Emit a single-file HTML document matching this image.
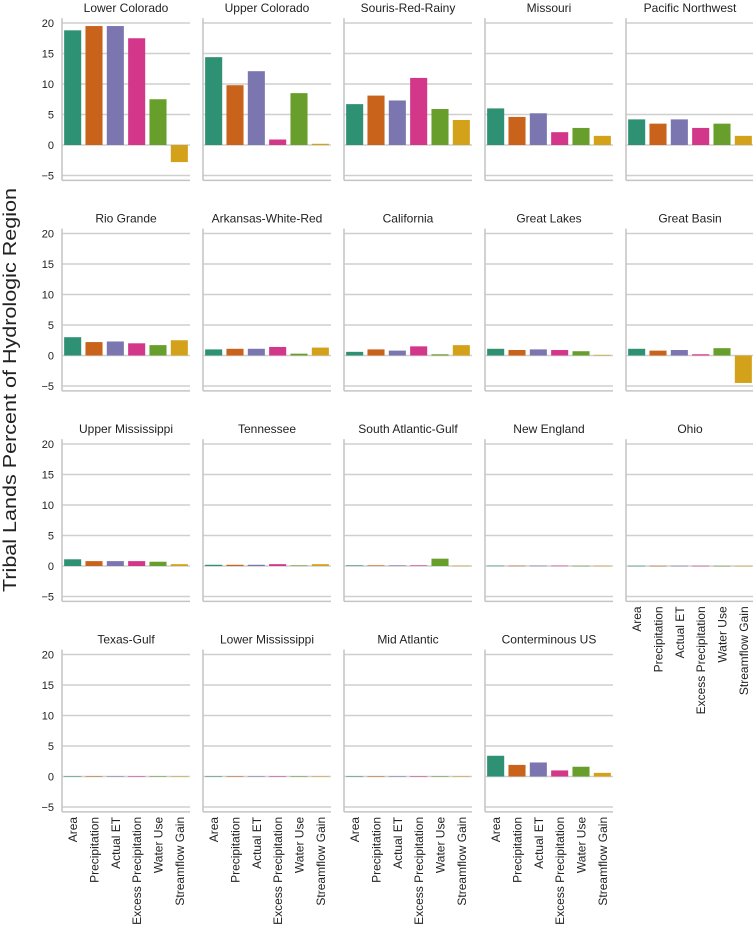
<!DOCTYPE html>
<html><head><meta charset="utf-8"><style>
body{margin:0;background:#fff;}
svg text{font-family:"Liberation Sans",sans-serif;fill:#222;}
</style></head><body>
<svg id="chart" width="753" height="931" xmlns="http://www.w3.org/2000/svg">
<text transform="translate(16,390) rotate(-90)" text-anchor="middle" font-size="18.5" textLength="404" lengthAdjust="spacingAndGlyphs">Tribal Lands Percent of Hydrologic Region</text>
</svg>
<script>
const categories = ["Area","Precipitation","Actual ET","Excess Precipitation","Water Use","Streamflow Gain"];
const regions = ["Lower Colorado","Upper Colorado","Souris-Red-Rainy","Missouri","Pacific Northwest","Rio Grande","Arkansas-White-Red","California","Great Lakes","Great Basin","Upper Mississippi","Tennessee","South Atlantic-Gulf","New England","Ohio","Texas-Gulf","Lower Mississippi","Mid Atlantic","Conterminous US"];
const values = [
 [18.8,19.5,19.5,17.5,7.5,-2.8],
 [14.4,9.8,12.1,0.9,8.5,0.2],
 [6.7,8.1,7.3,11.0,5.9,4.1],
 [6.0,4.6,5.2,2.1,2.8,1.5],
 [4.2,3.5,4.2,2.8,3.5,1.5],
 [3.0,2.2,2.3,2.0,1.7,2.5],
 [1.0,1.1,1.1,1.4,0.3,1.3],
 [0.6,1.0,0.8,1.5,0.2,1.7],
 [1.1,0.9,1.0,0.9,0.7,0.1],
 [1.1,0.8,0.9,0.2,1.2,-4.5],
 [1.1,0.8,0.8,0.8,0.7,0.3],
 [0.2,0.2,0.2,0.3,0.1,0.3],
 [0.1,0.1,0.1,0.1,1.2,0.05],
 [0.05,0.05,0.05,0.05,0.03,0.03],
 [0.03,0.03,0.03,0.03,0.02,0.02],
 [0.05,0.05,0.05,0.05,0.03,0.03],
 [0.03,0.03,0.03,0.03,0.02,0.02],
 [0.03,0.03,0.03,0.03,0.02,0.02],
 [3.4,1.9,2.3,1.0,1.6,0.6]
];
const yTicks = [-5,0,5,10,15,20];
const colors = ["#2e9173","#c9621b","#7b76b0","#d3378a","#689e2c","#d4a21a"];
const svg = document.getElementById('chart');
const NS = "http://www.w3.org/2000/svg";
const yMin = -5.8, yMax = 20.8, unit = 6.1;
function mk(tag, attrs, parent){const e=document.createElementNS(NS,tag);for(const k in attrs)e.setAttribute(k,attrs[k]);(parent||svg).appendChild(e);return e;}
function panelX(c){return 62 + c*141;}
function zeroY(r){return 145 + r*210.5;}
function yScale(r,v){return zeroY(r) - v*unit;}
const pw = 128, band = pw/6, bw = band*0.8;
function xLabels(g, x0, top){
  categories.forEach((cat,i)=>{
    const cx = x0 + band*(i+0.5);
    const t = mk('text',{transform:`translate(${cx+4.5},${top+5}) rotate(-90)`,'text-anchor':'end','font-size':'12'},g);
    
    
    t.textContent = cat;
  });
}
regions.forEach((name,idx)=>{
  const r = Math.floor(idx/5), c = idx%5;
  const x0 = panelX(c);
  const g = mk('g',{});
  
  
  yTicks.forEach(t=>{
    const y = yScale(r,t);
    const l = mk('line',{x1:x0,x2:x0+pw,y1:y,y2:y,stroke:'#cfcfcf','stroke-width':1.5},g);
    
    
    if(c===0){
      const tx = mk('text',{x:x0-8,y:y+4,'text-anchor':'end','font-size':'11'},g);
      
      
      tx.textContent = t<0 ? '\u2212'+(-t) : t;
    }
  });
  const top = yScale(r,yMax), bot = yScale(r,yMin);
  const ls = mk('line',{x1:x0,x2:x0,y1:top,y2:bot,stroke:'#c4c4c4','stroke-width':1.5},g);
  
  
  const bs = mk('line',{x1:x0,x2:x0+pw,y1:bot,y2:bot,stroke:'#c4c4c4','stroke-width':1.5},g);
  
  
  values[idx].forEach((v,i)=>{
    const bx = x0 + band*i + (band-bw)/2;
    const y1 = yScale(r,Math.max(v,0)), y2 = yScale(r,Math.min(v,0));
    const b = mk('rect',{x:bx,y:y1,width:bw,height:Math.max(y2-y1,0.5),fill:colors[i]},g);
    
    
  });
  const tt = mk('text',{x:x0+pw/2,y:top-6,'text-anchor':'middle','font-size':'12'},g);
  
  
  tt.textContent = name;
  if(r===3 || idx===14) xLabels(g, x0, bot);
});
</script>
</body></html>
